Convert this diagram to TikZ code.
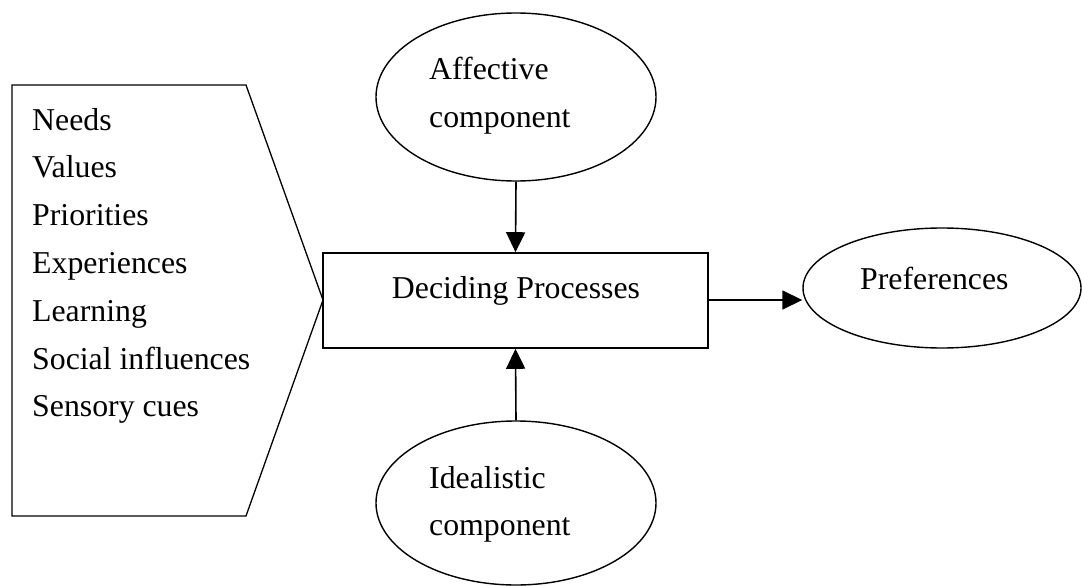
\documentclass[tikz,border=0pt]{standalone}
\usepackage{fontspec}
\setmainfont{Liberation Serif}
\usetikzlibrary{shapes.geometric,arrows.meta}
\begin{document}
\begin{tikzpicture}[x=1pt,y=-1pt,
  txt/.style={inner sep=0pt,anchor=base west,font=\fontsize{31.8}{48}\selectfont},
  oval/.style={draw,ellipse,line width=1.4pt,inner sep=0pt},
  box/.style={draw,rectangle,line width=1.6pt,inner sep=0pt},
  arr/.style={line width=1.6pt,-{Triangle[length=20pt,width=19pt]}}]
\useasboundingbox (0,0) rectangle (1082,586);
% left pentagon
\coordinate (p1) at (12,85);
\coordinate (p2) at (246,85);
\coordinate (p3) at (323,300);
\coordinate (p4) at (246,516);
\coordinate (p5) at (12,516);
\draw[line width=1.3pt] (p1) -- (p2) -- (p3) -- (p4) -- (p5) -- cycle;
\foreach \t [count=\i from 0] in {Needs,Values,Priorities,Experiences,Learning,Social influences,Sensory cues}
  \node[txt] (l\i) at (32,130+47.8*\i) {\t};
% central box
\node[box,minimum width=385pt,minimum height=95pt] (dec) at (515.5,300.5) {};
\node[txt,anchor=base] (dect) at (516,298) {Deciding Processes};
% ellipses
\node[oval,minimum width=280pt,minimum height=168pt] (aff) at (516,97) {};
\node[txt] (aff1) at (429,80) {Affective};
\node[txt] (aff2) at (429,128) {component};
\node[oval,minimum width=280pt,minimum height=164pt] (ide) at (516,503) {};
\node[txt] (ide1) at (429,488) {Idealistic};
\node[txt] (ide2) at (429,535) {component};
\node[oval,minimum width=278pt,minimum height=120pt] (pref) at (942,288) {};
\node[txt] (preft) at (860,289) {Preferences};
% arrows
\draw[arr] (aff.south) -- (dec.north);
\draw[arr] (ide.north) -- (dec.south);
\coordinate (r1) at (dec.east |- 0,300);
\draw[arr] (r1) -- (pref.west |- r1);
\end{tikzpicture}
\end{document}
